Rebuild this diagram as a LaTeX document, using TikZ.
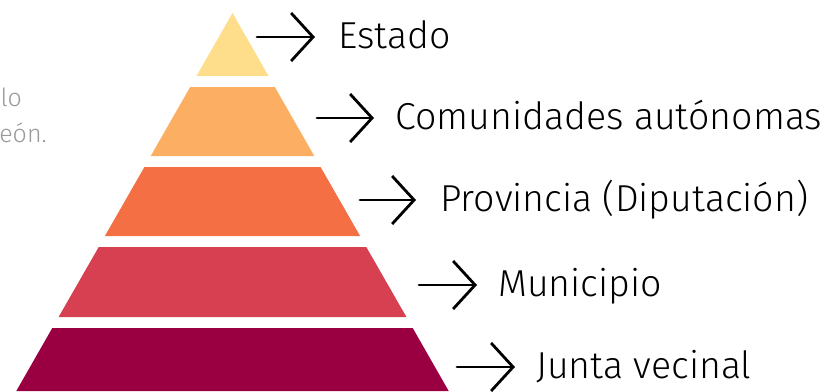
\documentclass[tikz,border=0pt]{standalone}
\usepackage{fontspec}
\setmainfont{Fira Sans Light}
\usetikzlibrary{arrows.meta}
\definecolor{etage1}{HTML}{FEDD8B}
\definecolor{etage2}{HTML}{FCAF62}
\definecolor{etage3}{HTML}{F47044}
\definecolor{etage4}{HTML}{D64050}
\definecolor{etage5}{HTML}{9A0041}
\definecolor{gristexte}{HTML}{9A9A9A}
\tikzset{
	fleche/.style={line width=2.8pt, line cap=round, -{Straight Barb[length=22pt, width=48pt, line width=2.8pt]}},
	niveau/.style={anchor=base west, inner sep=0pt, font=\fontsize{37.5}{42}\selectfont},
	reste/.style={anchor=base east, inner sep=0pt, text=gristexte, font=\fontsize{25}{30}\selectfont}
}
\begin{document}
\begin{tikzpicture}[x=1pt, y=-1pt]
	\useasboundingbox (0,0) rectangle (826,391);
	% la pyramide
	\fill [etage1] (232.5,13) -- (268.5,76) -- (196.5,76) -- cycle;
	\fill [etage2] (190.2,87) -- (274.8,87) -- (314.3,156) -- (150.7,156) -- cycle;
	\fill [etage3] (144.4,167) -- (320.6,167) -- (360.1,236) -- (104.9,236) -- cycle;
	\fill [etage4] (98.7,247) -- (366.3,247) -- (406.4,317) -- (58.6,317) -- cycle;
	\fill [etage5] (52.3,328) -- (412.7,328) -- (448.7,391) -- (16.3,391) -- cycle;
	% texte coupé à gauche
	\node[reste] (lo) at (22,106) {lo};
	\node[reste] (leon) at (47,142) {eón.};
	% les niveaux
	\node[niveau] (estado) at (338,48.5) {Estado};
	\node[niveau] (comunidades) at (395,129.5) {Comunidades autónomas};
	\node[niveau] (provincia) at (440,211.5) {Provincia (Diputación)};
	\node[niveau] (municipio) at (498,296) {Municipio};
	\node[niveau] (junta) at (536,378) {Junta vecinal};
	\coordinate (d1) at (257,37);
	\coordinate (d2) at (317,118);
	\coordinate (d3) at (360,200);
	\coordinate (d4) at (419,285);
	\coordinate (d5) at (457,367);
	\coordinate (f1) at (315,37);
	\coordinate (f2) at (374,118);
	\coordinate (f3) at (416,200);
	\coordinate (f4) at (477,285);
	\coordinate (f5) at (515,367);
	\draw[fleche] (d1) -- (f1);
	\draw[fleche] (d2) -- (f2);
	\draw[fleche] (d3) -- (f3);
	\draw[fleche] (d4) -- (f4);
	\draw[fleche] (d5) -- (f5);
\end{tikzpicture}
\end{document}
